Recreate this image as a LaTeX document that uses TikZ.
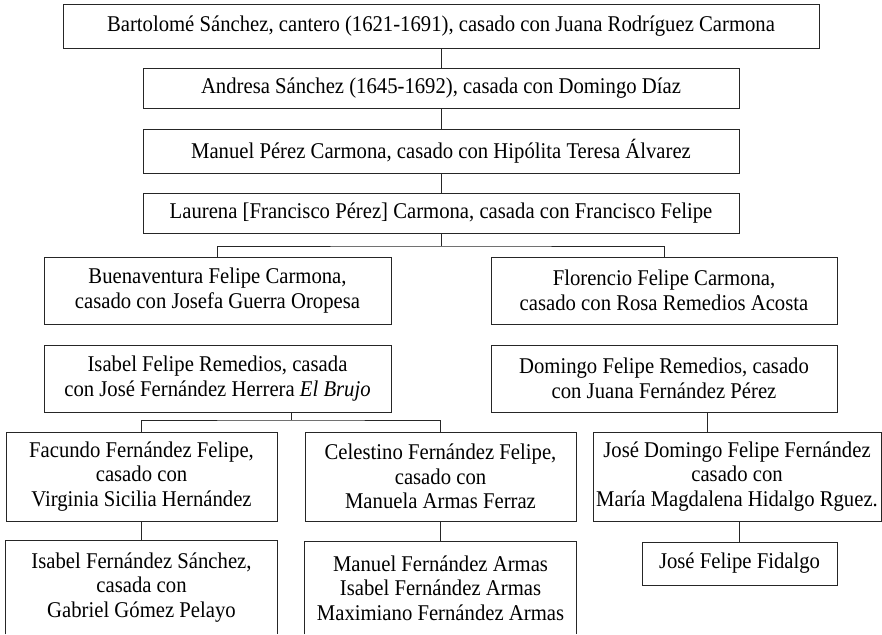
\documentclass[tikz,border=0pt]{standalone}
\usepackage{fontspec}
\setmainfont[FakeStretch=0.92]{Liberation Serif}
\begin{document}
\begin{tikzpicture}[x=1pt,y=-1pt,
  box/.style={draw=black!85, line width=0.9pt, align=center, inner sep=0pt,
    font=\fontsize{22.5}{24.5}\selectfont, text=black},
  openbox/.style={box, draw=none},
  link/.style={draw=black!85, line width=0.9pt}]
\useasboundingbox (0,0) rectangle (882,634);
\node[box, minimum width=756pt, minimum height=44pt] (b1) at (441,26)
  {Bartolomé Sánchez, cantero (1621-1691), casado con Juana Rodríguez Carmona};
\node[box, minimum width=596pt, minimum height=40pt] (b2) at (441,88)
  {Andresa Sánchez (1645-1692), casada con Domingo Díaz};
\node[box, minimum width=596pt, minimum height=44pt] (b3) at (441,151)
  {Manuel Pérez Carmona, casado con Hipólita Teresa Álvarez};
\node[box, minimum width=596pt, minimum height=40pt] (b4) at (441,213)
  {Laurena [Francisco Pérez] Carmona, casada con Francisco Felipe};
\node[box, minimum width=347pt, minimum height=67pt] (b5) at (217.5,290.5)
  {Buenaventura Felipe Carmona,\\casado con Josefa Guerra Oropesa};
\node[box, minimum width=346pt, minimum height=67pt] (b6) at (664,290.5)
  {Florencio Felipe Carmona,\\casado con Rosa Remedios Acosta};
\node[box, minimum width=347pt, minimum height=67pt] (b7) at (217.5,378.5)
  {Isabel Felipe Remedios, casada\\con José Fernández Herrera \textit{El Brujo}};
\node[box, minimum width=346pt, minimum height=67pt] (b8) at (664,378.5)
  {Domingo Felipe Remedios, casado\\con Juana Fernández Pérez};
\node[box, minimum width=271pt, minimum height=89pt] (b9) at (141.5,476.5)
  {Facundo Fernández Felipe,\\casado con\\Virginia Sicilia Hernández};
\node[box, minimum width=271pt, minimum height=89pt] (b10) at (440.5,476.5)
  {Celestino Fernández Felipe,\\casado con\\Manuela Armas Ferraz};
\node[box, minimum width=288pt, minimum height=89pt] (b11) at (737,476.5)
  {José Domingo Felipe Fernández\\casado con\\María Magdalena Hidalgo Rguez.};
\node[openbox, minimum width=271pt, minimum height=93pt] (b12) at (141.5,587.5)
  {Isabel Fernández Sánchez,\\casada con\\Gabriel Gómez Pelayo};
\node[openbox, minimum width=271pt, minimum height=92pt] (b13) at (440.5,588)
  {Manuel Fernández Armas\\Isabel Fernández Armas\\Maximiano Fernández Armas};
\node[box, minimum width=195pt, minimum height=43pt] (b14) at (739.5,563.5)
  {José Felipe Fidalgo};
\draw[link] (b12.south west) -- (b12.north west) -- (b12.north east) -- (b12.south east);
\draw[link] (b13.south west) -- (b13.north west) -- (b13.north east) -- (b13.south east);
\coordinate (j1) at (441,246);
\coordinate (j2) at (291,420);
\coordinate (j3) at (707,0);
\draw[link] (b1.south) -- (b2.north);
\draw[link] (b2.south) -- (b3.north);
\draw[link] (b3.south) -- (b4.north);
\draw[link] (b4.south) -- (j1);
\draw[link] (b5.north) |- (j1) -| (b6.north);
\draw[link] (b7.south -| j2) -- (j2);
\draw[link] (b9.north) |- (j2) -| (b10.north);
\draw[link] (b8.south -| j3) -- (b11.north -| j3);
\draw[link] (b9.south) -- (b12.north);
\draw[link] (b10.south) -- (b13.north);
\draw[link] (b11.south -| b14.north) -- (b14.north);
\end{tikzpicture}
\end{document}
